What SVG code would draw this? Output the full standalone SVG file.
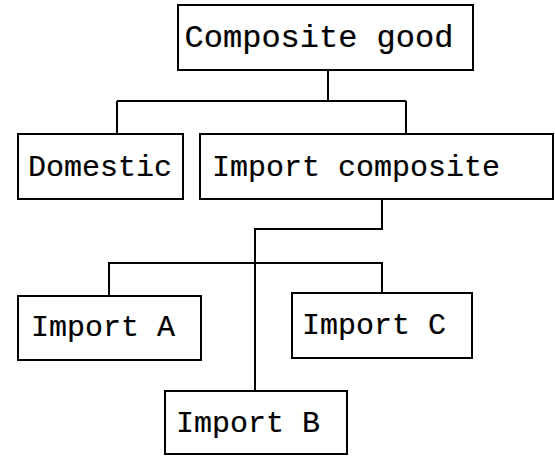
<svg xmlns="http://www.w3.org/2000/svg" width="555" height="456" viewBox="0 0 555 456">
  <style>
    .box { fill: #fff; stroke: #000; stroke-width: 2; }
    .lbl { font-family: "Liberation Mono", "Courier New", monospace; font-size: 30px; fill: #000; stroke: #000; stroke-width: 0.2; }
    .wire { fill: none; stroke: #000; stroke-width: 2; }
  </style>
  <rect width="555" height="456" fill="#fff"/>

  <!-- tree connectors -->
  <g id="connectors">
    <path class="wire" d="M328 70 V101 M117 101 H406 M117 101 V134 M406 101 V134"/>
    <path class="wire" d="M382 199 V229 H255 V391"/>
    <path class="wire" d="M109 295 V263 H382 V293"/>
  </g>

  <g id="composite-good">
    <rect class="box" x="178" y="5" width="295" height="65"/>
    <text class="lbl" x="319" y="47" text-anchor="middle" style="font-size:32px">Composite good</text>
  </g>

  <g id="domestic">
    <rect class="box" x="18" y="134" width="165" height="65"/>
    <text class="lbl" x="28" y="176">Domestic</text>
  </g>

  <g id="import-composite">
    <rect class="box" x="200" y="134" width="353" height="65"/>
    <text class="lbl" x="212" y="176">Import composite</text>
  </g>

  <g id="import-a">
    <rect class="box" x="18" y="296" width="183" height="64"/>
    <text class="lbl" x="31" y="336">Import A</text>
  </g>

  <g id="import-c">
    <rect class="box" x="292" y="293" width="180" height="65"/>
    <text class="lbl" x="302" y="334">Import C</text>
  </g>

  <g id="import-b">
    <rect class="box" x="165" y="391" width="182" height="63"/>
    <text class="lbl" x="176" y="432">Import B</text>
  </g>
</svg>
